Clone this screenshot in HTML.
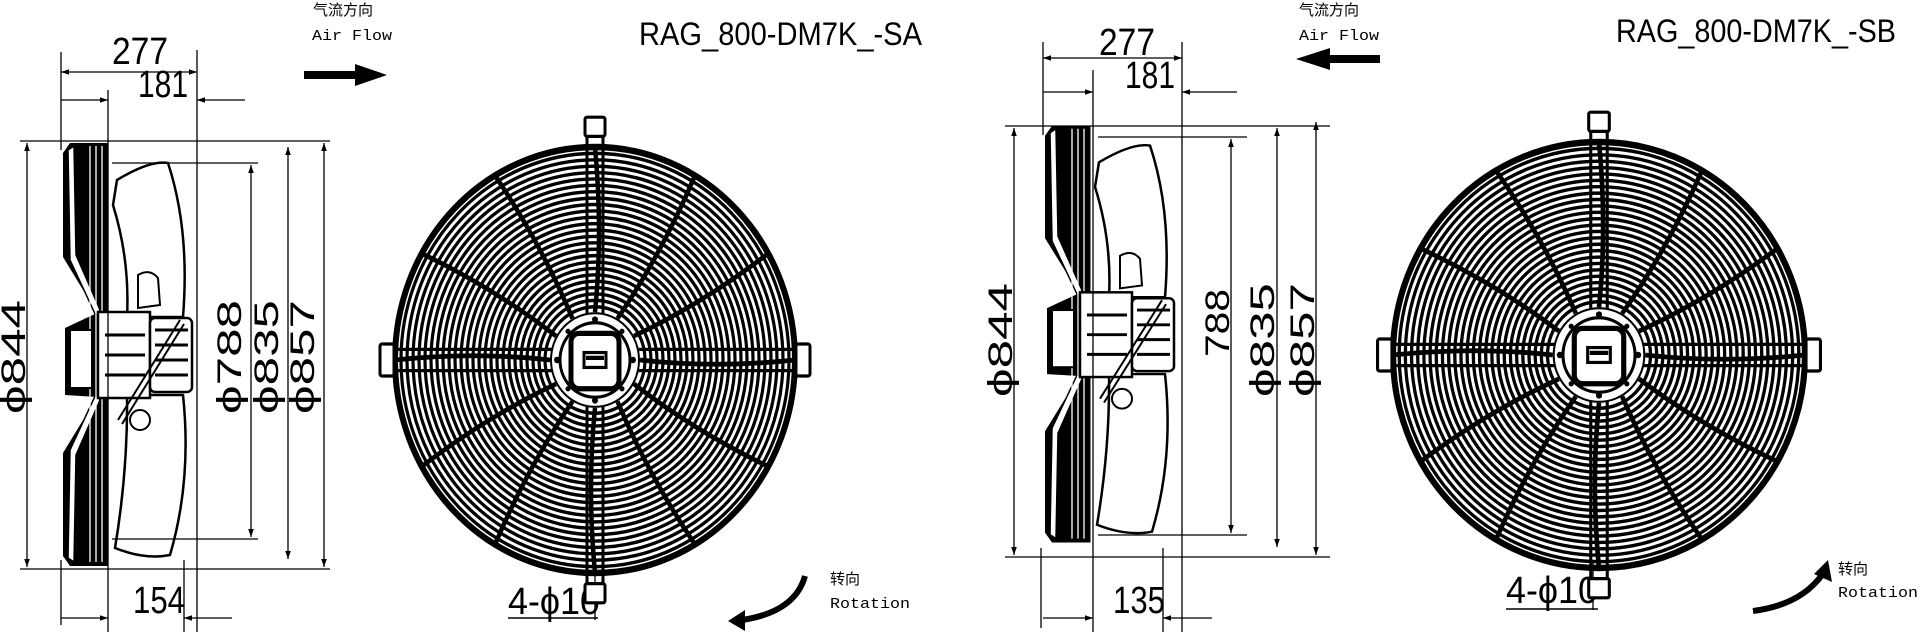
<!DOCTYPE html>
<html><head><meta charset="utf-8"><style>
html,body{margin:0;padding:0;background:#fff}
svg{display:block}
.t{font-family:"Liberation Sans","Noto Sans CJK SC",sans-serif}
.m{font-family:"Liberation Mono","Noto Sans CJK SC",monospace}
</style></head><body>
<svg width="1920" height="632" viewBox="0 0 1920 632" xmlns="http://www.w3.org/2000/svg">
<defs>
<marker id="a" viewBox="0 0 10 10" refX="10" refY="5" markerWidth="16" markerHeight="8" markerUnits="userSpaceOnUse" orient="auto-start-reverse"><path d="M0,1.5 L10,5 L0,8.5 Z" fill="#000"/></marker>
<g id="grille">
<g fill="none" stroke="#000" stroke-width="3.2">
<circle r="200" stroke-width="6"/><circle r="194"/><circle r="188"/><circle r="182"/><circle r="176"/><circle r="170"/><circle r="164"/><circle r="158"/><circle r="152"/><circle r="146"/><circle r="140"/><circle r="134"/><circle r="128"/><circle r="122"/><circle r="116"/><circle r="110"/><circle r="104"/><circle r="98"/><circle r="92"/><circle r="86"/><circle r="80"/><circle r="74"/><circle r="68"/><circle r="62"/><circle r="56"/><circle r="50"/>
</g>
<g stroke="#000" stroke-width="4.5" fill="none">
<path d="M0,-45 Q8,-120 0,-200"/><path d="M0,-45 Q8,-120 0,-200" transform="rotate(30)"/><path d="M0,-45 Q8,-120 0,-200" transform="rotate(60)"/><path d="M0,-45 Q8,-120 0,-200" transform="rotate(90)"/><path d="M0,-45 Q8,-120 0,-200" transform="rotate(120)"/><path d="M0,-45 Q8,-120 0,-200" transform="rotate(150)"/><path d="M0,-45 Q8,-120 0,-200" transform="rotate(180)"/><path d="M0,-45 Q8,-120 0,-200" transform="rotate(210)"/><path d="M0,-45 Q8,-120 0,-200" transform="rotate(240)"/><path d="M0,-45 Q8,-120 0,-200" transform="rotate(270)"/><path d="M0,-45 Q8,-120 0,-200" transform="rotate(300)"/><path d="M0,-45 Q8,-120 0,-200" transform="rotate(330)"/>
</g>
<g stroke="#000" stroke-width="3" fill="#fff">
<line x1="-8" y1="-215" x2="-8" y2="215"/><line x1="8" y1="-215" x2="8" y2="215"/>
<line x1="-205" y1="-10" x2="205" y2="-10"/><line x1="-205" y1="10" x2="205" y2="10"/>
<rect x="-10" y="-228" width="20" height="18" rx="2"/><rect x="-10" y="210" width="20" height="18" rx="2"/>
<rect x="-215" y="-15" width="14" height="30" rx="2"/><rect x="201" y="-15" width="14" height="30" rx="2"/>
</g>
<circle r="44" fill="#fff"/>
<circle r="44" fill="none" stroke="#000" stroke-width="2"/>
<circle r="35" fill="none" stroke="#000" stroke-width="3"/>
<rect x="-24" y="-25" width="48" height="52" rx="8" fill="#fff" stroke="#000" stroke-width="5"/>
<rect x="-11" y="-7" width="22" height="14" fill="#fff" stroke="#000" stroke-width="3"/>
<line x1="-9" y1="-2" x2="9" y2="-2" stroke="#000" stroke-width="4"/>
<g fill="#000"><circle cx="0" cy="-38" r="3"/><circle cx="0" cy="38" r="3"/><circle cx="-38" cy="0" r="3"/><circle cx="38" cy="0" r="3"/><circle cx="-27" cy="-27" r="2.5"/><circle cx="27" cy="-27" r="2.5"/><circle cx="-27" cy="27" r="2.5"/><circle cx="27" cy="27" r="2.5"/></g>
</g>
<g id="side">
<path d="M70,143 L107,143 L107,566 L70,566 L63,556 L63,453 L97,397 L65,395 L65,328 L97,313 L63,257 L63,153 Z" fill="#000"/>
<path d="M68,150 L74,146 L76,255 L100,310 L96,316 L70,260 Z M68,558 L74,562 L76,455 L100,400 L96,394 L70,450 Z" fill="#fff" stroke="#000" stroke-width="1.5"/>
<g stroke="#fff" stroke-width="1.3"><line x1="90" y1="146" x2="90" y2="562"/><line x1="96" y1="146" x2="96" y2="562"/><line x1="102" y1="146" x2="102" y2="562"/></g>
<rect x="70" y="330" width="22" height="58" fill="#fff" stroke="#000" stroke-width="2"/>
<line x1="107" y1="143" x2="107" y2="566" stroke="#000" stroke-width="3"/>
<path d="M117,180 Q150,160 168,163 Q190,230 183,317 L127,317 Q130,260 113,205 Z" fill="#fff" stroke="#000" stroke-width="2.5"/>
<path d="M127,395 L183,395 Q192,480 170,555 Q145,560 115,548 Q128,470 127,395 Z" fill="#fff" stroke="#000" stroke-width="2.5"/>
<path d="M138,275 Q150,268 158,278 L160,305 L138,308 Z" fill="#fff" stroke="#000" stroke-width="2"/>
<rect x="98" y="312" width="52" height="86" fill="#fff" stroke="#000" stroke-width="2.5"/>
<rect x="150" y="318" width="42" height="74" rx="5" fill="#fff" stroke="#000" stroke-width="2.5"/>
<g stroke="#000" stroke-width="3"><line x1="155" y1="330" x2="188" y2="330"/><line x1="155" y1="345" x2="188" y2="345"/><line x1="155" y1="360" x2="188" y2="360"/><line x1="155" y1="375" x2="188" y2="375"/><line x1="105" y1="335" x2="145" y2="335"/><line x1="105" y1="355" x2="145" y2="355"/><line x1="105" y1="375" x2="145" y2="375"/></g>
<path d="M118,420 L180,320 M122,424 L184,324" stroke="#000" stroke-width="2"/>
<circle cx="140" cy="420" r="10" fill="none" stroke="#000" stroke-width="2"/>
</g>
</defs>

<use href="#side"/>
<g stroke="#000" stroke-width="1.3" fill="none">
<line x1="61" y1="52" x2="61" y2="150"/>
<line x1="108" y1="90" x2="108" y2="637"/>
<line x1="197" y1="50" x2="197" y2="637"/>
<line x1="20" y1="141" x2="330" y2="141"/>
<line x1="20" y1="569" x2="330" y2="569"/>
<line x1="112" y1="163" x2="258" y2="163"/>
<line x1="112" y1="539" x2="258" y2="539"/>
<line x1="61" y1="560" x2="61" y2="625"/>
</g>
<g stroke="#000" stroke-width="1.3" fill="none" marker-start="url(#a)" marker-end="url(#a)">
<line x1="61" y1="72" x2="197" y2="72"/>
<line x1="27" y1="143" x2="27" y2="567"/>
<line x1="251" y1="165" x2="251" y2="537"/>
<line x1="288" y1="147" x2="288" y2="559"/>
<line x1="324" y1="143" x2="324" y2="567"/>
</g>
<g stroke="#000" stroke-width="1.3" fill="none">
<line x1="61" y1="100" x2="108" y2="100" marker-end="url(#a)"/>
<line x1="245" y1="100" x2="197" y2="100" marker-end="url(#a)"/>
<line x1="61" y1="618" x2="108" y2="618" marker-end="url(#a)"/>
<line x1="232" y1="618" x2="184" y2="618" marker-end="url(#a)"/>
<line x1="184" y1="560" x2="184" y2="632"/>
</g>
<g class="t" font-size="38" fill="#000">
<text x="140" y="64" text-anchor="middle" textLength="56" lengthAdjust="spacingAndGlyphs">277</text>
<text x="163" y="97" text-anchor="middle" textLength="50" lengthAdjust="spacingAndGlyphs">181</text>
<text x="159" y="613" text-anchor="middle" textLength="52" lengthAdjust="spacingAndGlyphs">154</text>
<g font-size="34">
<text transform="translate(25,357) rotate(-90)" text-anchor="middle" textLength="114" lengthAdjust="spacingAndGlyphs">ϕ844</text>
<text transform="translate(241,357) rotate(-90)" text-anchor="middle" textLength="114" lengthAdjust="spacingAndGlyphs">ϕ788</text>
<text transform="translate(278,357) rotate(-90)" text-anchor="middle" textLength="114" lengthAdjust="spacingAndGlyphs">ϕ835</text>
<text transform="translate(314,357) rotate(-90)" text-anchor="middle" textLength="114" lengthAdjust="spacingAndGlyphs">ϕ857</text>
</g>
<text x="508" y="614" textLength="92" lengthAdjust="spacingAndGlyphs">4-ϕ10</text>
<text x="639" y="45" font-size="32" textLength="283" lengthAdjust="spacingAndGlyphs">RAG_800-DM7K_-SA</text>
</g>
<line x1="508" y1="618" x2="598" y2="618" stroke="#000" stroke-width="1.5"/>
<line x1="595" y1="566" x2="595" y2="620" stroke="#000" stroke-width="1.3"/>
<g class="m" fill="#000" font-size="15">
<text x="313" y="15">气流方向</text>
<text x="312" y="40" textLength="80" lengthAdjust="spacingAndGlyphs">Air Flow</text>
<text x="830" y="584">转向</text>
<text x="830" y="608" textLength="80" lengthAdjust="spacingAndGlyphs">Rotation</text>
</g>
<path d="M304,71 L355,71 L355,64 L387,75 L355,86 L355,79 L304,79 Z" fill="#000"/>
<path d="M805,576 Q795,612 742,620" stroke="#000" stroke-width="6" fill="none"/>
<path d="M728,621 L745,610 L745,631 Z" fill="#000"/>
<g transform="translate(595,360) scale(1,1.065)"><use href="#grille"/></g>

<g transform="translate(982,-15) scale(1,0.985)"><use href="#side"/></g>
<g stroke="#000" stroke-width="1.3" fill="none">
<line x1="1043" y1="42" x2="1043" y2="135"/>
<line x1="1093" y1="70" x2="1093" y2="637"/>
<line x1="1182" y1="42" x2="1182" y2="637"/>
<line x1="1005" y1="126" x2="1330" y2="126"/>
<line x1="1005" y1="557" x2="1330" y2="557"/>
<line x1="1098" y1="137" x2="1247" y2="137"/>
<line x1="1098" y1="535" x2="1247" y2="535"/>
<line x1="1041" y1="548" x2="1041" y2="628"/>
<line x1="1163" y1="548" x2="1163" y2="632"/>
</g>
<g stroke="#000" stroke-width="1.3" fill="none" marker-start="url(#a)" marker-end="url(#a)">
<line x1="1043" y1="58" x2="1182" y2="58"/>
<line x1="1014" y1="128" x2="1014" y2="555"/>
<line x1="1231" y1="139" x2="1231" y2="533"/>
<line x1="1277" y1="128" x2="1277" y2="547"/>
<line x1="1316" y1="122" x2="1316" y2="555"/>
</g>
<g stroke="#000" stroke-width="1.3" fill="none">
<line x1="1043" y1="92" x2="1093" y2="92" marker-end="url(#a)"/>
<line x1="1237" y1="92" x2="1182" y2="92" marker-end="url(#a)"/>
<line x1="1043" y1="618" x2="1093" y2="618" marker-end="url(#a)"/>
<line x1="1212" y1="618" x2="1163" y2="618" marker-end="url(#a)"/>
</g>
<g class="t" font-size="38" fill="#000">
<text x="1127" y="55" text-anchor="middle" textLength="56" lengthAdjust="spacingAndGlyphs">277</text>
<text x="1150" y="88" text-anchor="middle" textLength="50" lengthAdjust="spacingAndGlyphs">181</text>
<text x="1139" y="613" text-anchor="middle" textLength="52" lengthAdjust="spacingAndGlyphs">135</text>
<g font-size="34">
<text transform="translate(1012,340) rotate(-90)" text-anchor="middle" textLength="114" lengthAdjust="spacingAndGlyphs">ϕ844</text>
<text transform="translate(1229,323) rotate(-90)" text-anchor="middle" textLength="68" lengthAdjust="spacingAndGlyphs">788</text>
<text transform="translate(1274,340) rotate(-90)" text-anchor="middle" textLength="114" lengthAdjust="spacingAndGlyphs">ϕ835</text>
<text transform="translate(1314,340) rotate(-90)" text-anchor="middle" textLength="114" lengthAdjust="spacingAndGlyphs">ϕ857</text>
</g>
<text x="1506" y="603" textLength="92" lengthAdjust="spacingAndGlyphs">4-ϕ10</text>
<text x="1616" y="42" font-size="32" textLength="280" lengthAdjust="spacingAndGlyphs">RAG_800-DM7K_-SB</text>
</g>
<line x1="1506" y1="609" x2="1598" y2="609" stroke="#000" stroke-width="1.5"/>
<line x1="1593" y1="562" x2="1593" y2="610" stroke="#000" stroke-width="1.3"/>
<g class="m" fill="#000" font-size="15">
<text x="1299" y="15">气流方向</text>
<text x="1299" y="40" textLength="80" lengthAdjust="spacingAndGlyphs">Air Flow</text>
<text x="1838" y="574">转向</text>
<text x="1838" y="597" textLength="80" lengthAdjust="spacingAndGlyphs">Rotation</text>
</g>
<path d="M1380,55 L1330,55 L1330,48 L1296,59 L1330,70 L1330,63 L1380,63 Z" fill="#000"/>
<path d="M1753,611 Q1800,605 1822,575" stroke="#000" stroke-width="6" fill="none"/>
<path d="M1828,560 L1832,582 L1814,574 Z" fill="#000"/>
<g transform="translate(1599,355) scale(1.03,1.065)"><use href="#grille"/></g>
</svg>
</body></html>
